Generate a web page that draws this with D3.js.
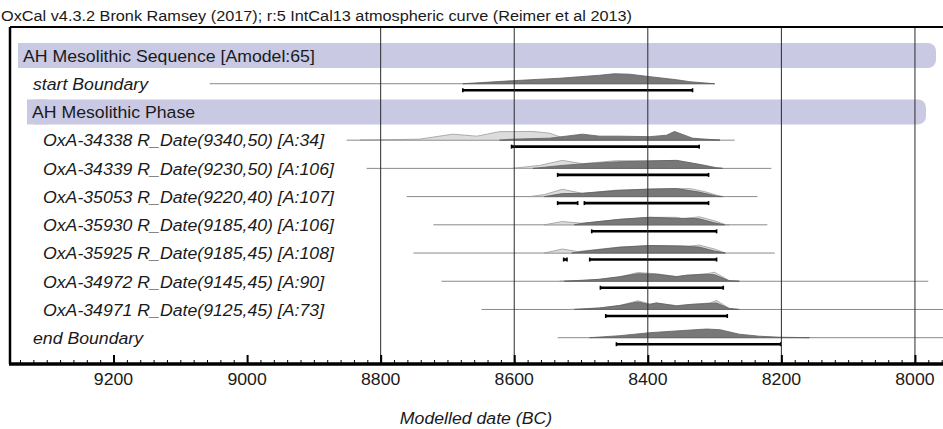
<!DOCTYPE html>
<html lang="en">
<head>
<meta charset="utf-8">
<style>
  body { margin: 0; background: #fff; }
  text { font-family: "Liberation Sans", Arial, sans-serif; fill: #1a1a1a; }
  .it { font-style: italic; }
</style>
<script src="https://d3js.org/d3.v7.min.js"></script>
</head>
<body>
<div id="chart"></div>
<script>
var width = 943, height = 429;

var titleText = "OxCal v4.3.2 Bronk Ramsey (2017); r:5 IntCal13 atmospheric curve (Reimer et al 2013)";
var axisTitle = "Modelled date (BC)";

// rows, top to bottom
var rowLabels = [
  "AH Mesolithic Sequence [Amodel:65]",
  "start Boundary",
  "AH Mesolithic Phase",
  "OxA-34338 R_Date(9340,50) [A:34]",
  "OxA-34339 R_Date(9230,50) [A:106]",
  "OxA-35053 R_Date(9220,40) [A:107]",
  "OxA-35930 R_Date(9185,40) [A:106]",
  "OxA-35925 R_Date(9185,45) [A:108]",
  "OxA-34972 R_Date(9145,45) [A:90]",
  "OxA-34971 R_Date(9125,45) [A:73]",
  "end Boundary"
];
var rowType  = ["group", "boundary", "group", "date", "date", "date", "date", "date", "date", "date", "boundary"];
var rowLevel = [0, 1, 1, 2, 2, 2, 2, 2, 2, 2, 1];

// thin line under each distribution: [from, to] in years BC
var rowSpan = [
  null, [9056, 8300], null,
  [8851, 8270], [8821, 8215], [8761, 8236], [8721, 8221], [8751, 8210],
  [8709, 7980], [8649, 7900], [8535, 7900]
];

// unmodelled likelihoods (light) : [year BC, relative density]
var likelihood = [
  null, null, null,
  [[8831,0],[8742,1],[8692,6],[8656,4],[8622,8.5],[8572,8.7],[8547,7],[8528,2.5],[8498,1.5],[8472,1],[8397,1],[8360,3],[8323,0.5],[8292,0]],
  [[8603,0],[8562,3],[8528,8],[8498,4.7],[8447,7.7],[8397,7.5],[8357,8],[8323,4],[8297,0.7],[8288,0]],
  [[8577,0],[8555,2],[8528,7.3],[8498,3.3],[8447,6.5],[8397,7.5],[8337,8],[8315,5],[8292,0.5],[8285,0]],
  [[8555,0],[8528,3.3],[8498,1.5],[8442,5.5],[8397,7.5],[8357,7.5],[8348,6],[8323,8],[8300,4],[8285,0.5],[8278,0]],
  [[8555,0],[8528,4],[8505,1.5],[8442,6],[8397,7.5],[8337,7],[8323,8],[8300,4],[8284,0]],
  [[8532,0],[8487,1],[8472,2],[8442,4.5],[8415,8.7],[8387,7.5],[8357,4.8],[8342,6],[8312,7.5],[8300,9],[8278,0.5],[8263,0]],
  [[8517,0],[8472,1.5],[8442,4],[8415,8.7],[8397,5.5],[8387,6.5],[8357,3.8],[8337,5],[8307,6.5],[8297,9],[8278,1],[8263,0]],
  null
];

// modelled posteriors (dark)
var posterior = [
  null,
  [[8677,0],[8603,3],[8532,5.5],[8502,7],[8472,8.5],[8450,10],[8427,9.5],[8400,7.3],[8357,4],[8337,2],[8300,0]],
  null,
  [[8622,0],[8603,1],[8547,2],[8498,6],[8472,4],[8442,4],[8397,3.5],[8372,5],[8360,8.7],[8345,5],[8333,2],[8292,0]],
  [[8572,0],[8528,3],[8498,4.5],[8447,6.5],[8397,7.5],[8357,8],[8323,4],[8297,0.5],[8288,0]],
  [[8555,0],[8528,3],[8498,3.3],[8447,6],[8397,7.5],[8357,8],[8323,4.5],[8297,0.5],[8288,0]],
  [[8510,0],[8498,1.5],[8442,5.5],[8397,7.5],[8357,6.5],[8337,6.5],[8323,6],[8300,2],[8285,0]],
  [[8514,0],[8498,1.5],[8442,5.8],[8397,7.5],[8352,7],[8323,6],[8300,2],[8284,0]],
  [[8525,0],[8472,2],[8442,4.5],[8415,7.5],[8387,7],[8357,4.5],[8342,6],[8312,7],[8300,6.5],[8278,0.5],[8263,0]],
  [[8510,0],[8472,1.5],[8442,4],[8415,7.5],[8397,5],[8387,6.5],[8357,3.5],[8337,5],[8307,6],[8297,6.5],[8278,1],[8263,0]],
  [[8487,0],[8442,2],[8397,5],[8352,7],[8312,8.7],[8292,8],[8263,3.5],[8233,1.5],[8203,0.5],[8158,0]]
];

// 95.4% ranges
var ranges = [
  null, [[8677, 8333]], null,
  [[8604, 8323]],
  [[8535, 8309]],
  [[8535, 8505], [8495, 8309]],
  [[8484, 8297]],
  [[8526, 8521], [8487, 8297]],
  [[8471, 8287]],
  [[8463, 8281]],
  [[8447, 8201]]
];

var majorTicks = [9200, 9000, 8800, 8600, 8400, 8200, 8000];
var gridTicks  = [8800, 8600, 8400, 8200, 8000];
var minorTicks = d3.range(9340, 7950, -20);

var frame = {left: 10, top: 27, right: 945, bottom: 364};
var sx = 1.085; // text is a little wide in the original

var svg = d3.select("#chart").append("svg")
    .attr("width", width)
    .attr("height", height);

var x = d3.scaleLinear().domain([9355, 7955]).range([frame.left, frame.right]);
var y = d3.scaleLinear().domain([0, rowLabels.length - 1]).range([55.5, 337.7]);
var dens = d3.scaleLinear().domain([0, 10]).range([0, -10]);

svg.append("clipPath").attr("id", "plotclip")
  .append("rect")
    .attr("x", frame.left).attr("y", frame.top)
    .attr("width", frame.right - frame.left).attr("height", frame.bottom - frame.top);

var plot = svg.append("g").attr("clip-path", "url(#plotclip)");

// group bands
rowLabels.forEach(function(lab, i) {
  if (rowType[i] != "group") return;
  var l = 18 + 9 * rowLevel[i], r = 936 - 10 * rowLevel[i];
  plot.append("rect")
    .attr("x", l).attr("y", y(i) - 12.5)
    .attr("width", r - l).attr("height", 25)
    .attr("rx", 8).attr("ry", 8)
    .style("fill", "#c9c9e4");
  plot.append("rect")
    .attr("x", l).attr("y", y(i) - 12.5)
    .attr("width", 20).attr("height", 25)
    .style("fill", "#c9c9e4");
});

var area = d3.area()
    .x(function(d) { return x(d[0]); })
    .y0(0)
    .y1(function(d) { return dens(d[1]); });

rowLabels.forEach(function(lab, i) {
  if (rowType[i] == "group") return;
  var g = plot.append("g").attr("transform", "translate(0," + y(i) + ")");

  g.append("line")
    .attr("x1", x(rowSpan[i][0])).attr("x2", x(rowSpan[i][1]))
    .attr("y1", 0).attr("y2", 0)
    .style("stroke", "#8a8a8a").style("stroke-width", 1);

  if (likelihood[i]) {
    g.append("path").datum(likelihood[i])
      .attr("d", area)
      .style("fill", "#dcdcdc").style("stroke", "#9a9a9a").style("stroke-width", 0.8);
  }
  if (posterior[i]) {
    g.append("path").datum(posterior[i])
      .attr("d", area)
      .style("fill", "#787878").style("stroke", "#5e5e5e").style("stroke-width", 0.8);
  }

  ranges[i].forEach(function(r) {
    var x1 = x(r[0]), x2 = x(r[1]);
    g.append("line")
      .attr("x1", x1).attr("x2", x2).attr("y1", 6.5).attr("y2", 6.5)
      .style("stroke", "#000").style("stroke-width", 2.6);
    [x1, x2].forEach(function(e) {
      g.append("line")
        .attr("x1", e).attr("x2", e).attr("y1", 4.5).attr("y2", 8.5)
        .style("stroke", "#000").style("stroke-width", 1.6);
    });
  });
});

// grid lines
plot.selectAll(".grid").data(gridTicks).enter().append("line")
    .attr("class", "grid")
    .attr("x1", function(d) { return x(d); }).attr("x2", function(d) { return x(d); })
    .attr("y1", frame.top).attr("y2", frame.bottom)
    .style("stroke", "#2a2a2a").style("stroke-width", 1);

// frame
svg.append("line")
    .attr("x1", frame.left).attr("x2", width).attr("y1", frame.top).attr("y2", frame.top)
    .style("stroke", "#000").style("stroke-width", 2);
svg.append("line")
    .attr("x1", frame.left).attr("x2", frame.left).attr("y1", frame.top).attr("y2", frame.bottom)
    .style("stroke", "#000").style("stroke-width", 2.5);

// axis
var minorAxis = d3.axisTop(x).tickValues(minorTicks).tickSize(4).tickFormat("");
var majorAxis = d3.axisTop(x).tickValues(majorTicks).tickSize(9).tickFormat("");
var gMin = svg.append("g").attr("transform", "translate(0," + frame.bottom + ")").call(minorAxis);
var gMaj = svg.append("g").attr("transform", "translate(0," + frame.bottom + ")").call(majorAxis);
gMin.select(".domain").remove();
gMaj.select(".domain").remove();
gMin.selectAll("line").style("stroke", "#000").style("stroke-width", 1);
gMaj.selectAll("line").style("stroke", "#000").style("stroke-width", 2);

svg.append("line")
    .attr("x1", frame.left - 1).attr("x2", width).attr("y1", frame.bottom).attr("y2", frame.bottom)
    .style("stroke", "#000").style("stroke-width", 3.5);

svg.selectAll(".tlab").data(majorTicks).enter().append("text")
    .attr("class", "tlab")
    .attr("transform", function(d) { return "translate(" + x(d) + ",385) scale(" + sx + ",1)"; })
    .style("font-size", "16.3px")
    .style("text-anchor", "middle")
    .text(function(d) { return d; });

svg.append("text")
    .attr("class", "it")
    .attr("transform", "translate(476,424) scale(" + sx + ",1)")
    .style("font-size", "16.3px")
    .style("text-anchor", "middle")
    .text(axisTitle);

// row labels
rowLabels.forEach(function(lab, i) {
  var lx = rowType[i] == "group" ? 23 + 9 * rowLevel[i] : 23 + 10 * rowLevel[i];
  svg.append("text")
    .attr("class", rowType[i] == "group" ? "" : "it")
    .attr("transform", "translate(" + lx + "," + (y(i) + 6.3) + ") scale(" + sx + ",1)")
    .style("font-size", "16.3px")
    .text(lab);
});

// title
svg.append("text")
    .attr("transform", "translate(1,20.5) scale(" + sx + ",1)")
    .style("font-size", "15px")
    .text(titleText);
</script>
</body>
</html>
